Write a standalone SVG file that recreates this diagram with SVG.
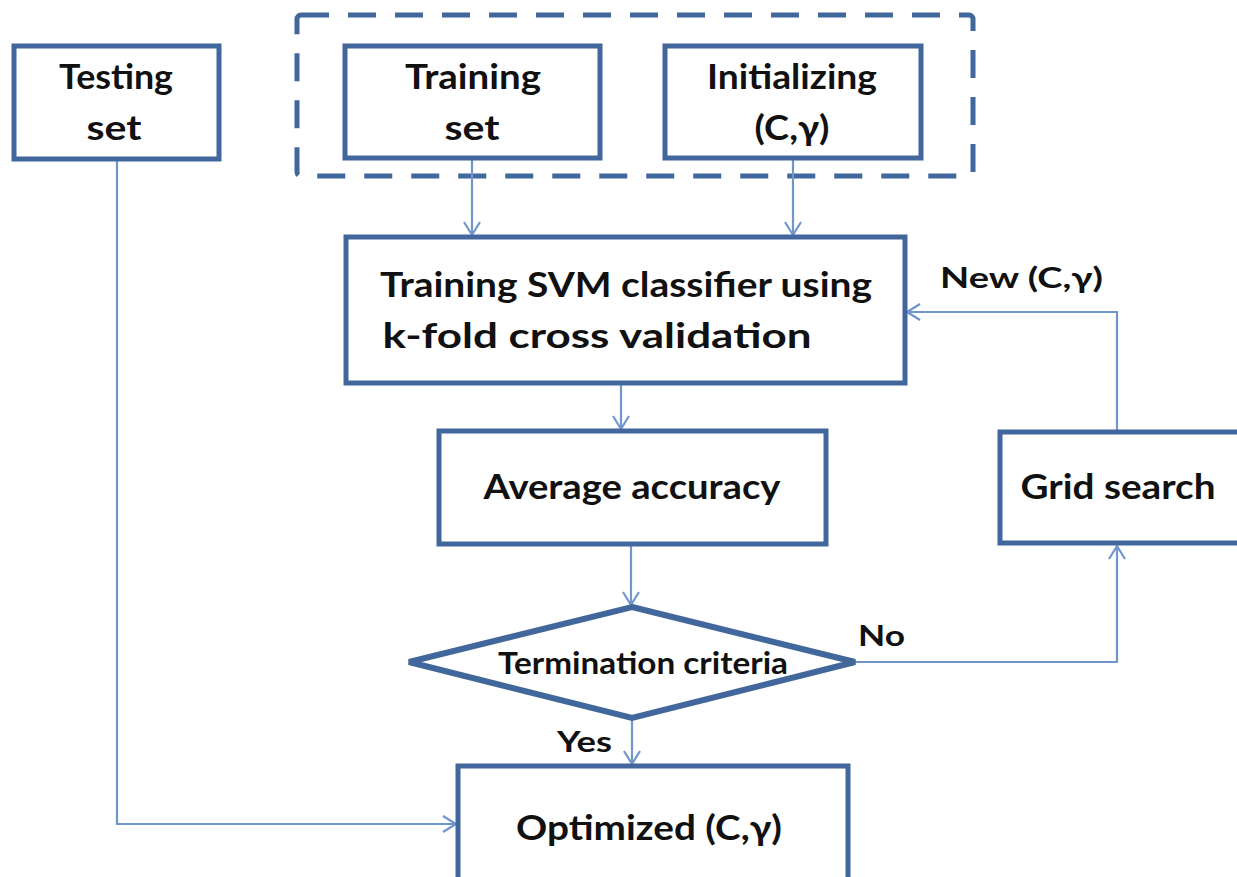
<svg xmlns="http://www.w3.org/2000/svg" width="1237" height="877" viewBox="0 0 1237 877">
<defs>
<style>
.box{fill:#fff;stroke:#41679c;stroke-width:5}
.dash{fill:none;stroke:#41679c;stroke-width:5;stroke-dasharray:28,19}
.ln{fill:none;stroke:#7096cc;stroke-width:2.2}
.t{font-family:Lato,"Liberation Sans",sans-serif;font-size:34px;font-weight:700;fill:#111;text-anchor:middle}
.lbl{font-family:Lato,"Liberation Sans",sans-serif;font-size:29px;font-weight:700;fill:#111}
</style>
<marker id="ah" markerWidth="20" markerHeight="20" refX="16" refY="10" orient="auto" markerUnits="userSpaceOnUse">
<path d="M3,2 L16,10 L3,18" fill="none" stroke="#7096cc" stroke-width="2.2"/>
</marker>
</defs>
<rect width="1237" height="877" fill="#fff"/>
<rect class="dash" x="297" y="15" width="676" height="161" rx="4"/>
<g id="connectors">
<path class="ln" d="M472,158 V235" marker-end="url(#ah)"/>
<path class="ln" d="M793,158 V235" marker-end="url(#ah)"/>
<path class="ln" d="M621,383 V429" marker-end="url(#ah)"/>
<path class="ln" d="M631,544 V605" marker-end="url(#ah)"/>
<path class="ln" d="M632,718 V764" marker-end="url(#ah)"/>
<path class="ln" d="M117,159 V824 H456" marker-end="url(#ah)"/>
<path class="ln" d="M855,662 H1117 V546" marker-end="url(#ah)"/>
<path class="ln" d="M1117,432 V312 H907" marker-end="url(#ah)"/>
</g>
<g id="testing"><rect class="box" x="14" y="46" width="205" height="113"/><text class="t" x="116" y="89" textLength="114" lengthAdjust="spacingAndGlyphs">Testing</text><text class="t" x="114" y="140" textLength="55" lengthAdjust="spacingAndGlyphs">set</text></g>
<g id="training"><rect class="box" x="345" y="46" width="255" height="112"/><text class="t" x="473" y="89" textLength="136" lengthAdjust="spacingAndGlyphs">Training</text><text class="t" x="472" y="140" textLength="55" lengthAdjust="spacingAndGlyphs">set</text></g>
<g id="init"><rect class="box" x="665" y="46" width="256" height="112"/><text class="t" x="792" y="89" textLength="170" lengthAdjust="spacingAndGlyphs">Initializing</text><text class="t" x="792" y="140" textLength="75" lengthAdjust="spacingAndGlyphs">(C,γ)</text></g>
<g id="svm"><rect class="box" x="346" y="237" width="559" height="146"/><text class="t" x="626" y="297" textLength="492" lengthAdjust="spacingAndGlyphs">Training SVM classifier using</text><text class="t" x="597" y="348" textLength="429" lengthAdjust="spacingAndGlyphs">k-fold cross validation</text></g>
<g id="avg"><rect class="box" x="439" y="431" width="387" height="113"/><text class="t" x="632" y="499" textLength="297" lengthAdjust="spacingAndGlyphs">Average accuracy</text></g>
<g id="term"><polygon class="box" points="632,607 855,662 632,718 409,662" style="stroke-width:6"/><text class="t" x="643" y="674" textLength="290" lengthAdjust="spacingAndGlyphs" style="font-size:30px">Termination criteria</text></g>
<g id="grid"><rect class="box" x="1000" y="432" width="240" height="111"/><text class="t" x="1118" y="499" textLength="195" lengthAdjust="spacingAndGlyphs">Grid search</text></g>
<g id="opt"><rect class="box" x="458" y="766" width="390" height="120"/><text class="t" x="649" y="840" textLength="266" lengthAdjust="spacingAndGlyphs">Optimized (C,γ)</text></g>
<text class="lbl" x="940" y="288" textLength="163" lengthAdjust="spacingAndGlyphs">New (C,γ)</text>
<text class="lbl" x="858" y="646" textLength="47" lengthAdjust="spacingAndGlyphs">No</text>
<text class="lbl" x="557" y="752" textLength="55" lengthAdjust="spacingAndGlyphs">Yes</text>
</svg>
